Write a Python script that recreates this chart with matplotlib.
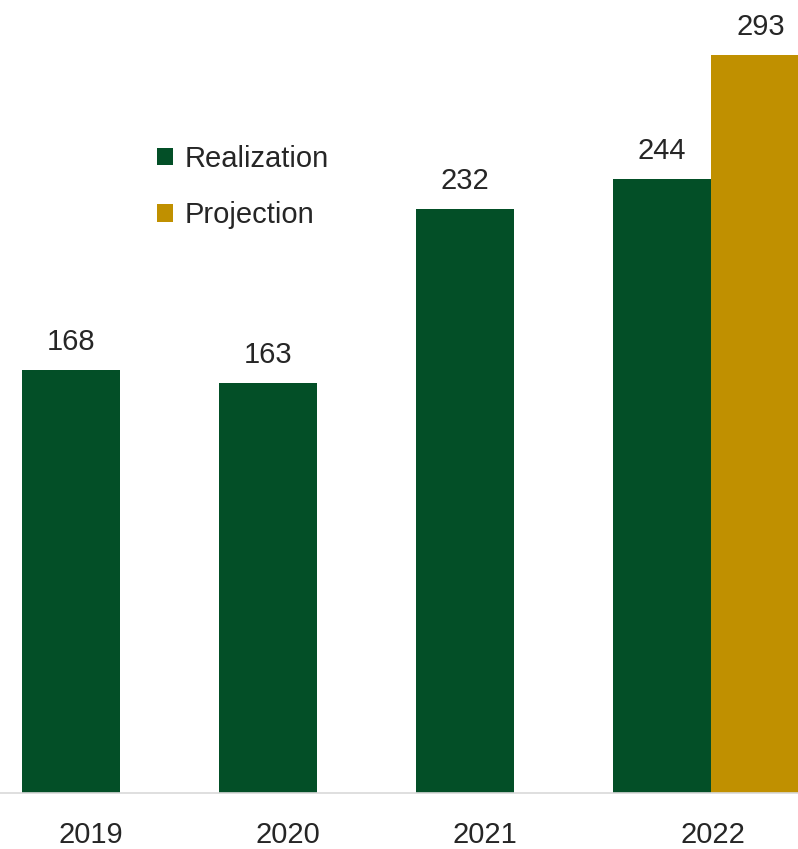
import matplotlib.pyplot as plt

years = ['2019', '2020', '2021', '2022']
realization = [168, 163, 232, 244]
projection = [293]

green = '#034F27'
gold = '#C09000'
txt = '#262626'

plt.rcParams['font.family'] = ['Liberation Sans', 'DejaVu Sans']

fig = plt.figure(figsize=(7.98, 8.49), dpi=100)
ax = fig.add_axes([0, 56 / 849, 1, 793 / 849])

w = 0.5
xs = list(range(len(years)))
b1 = ax.bar(xs, realization, width=w, color=green, label='Realization')
b2 = ax.bar([xs[-1] + w], projection, width=w, color=gold, label='Projection')

for bars in (b1, b2):
    for r in bars:
        ax.annotate(f'{r.get_height():.0f}', (r.get_x() + r.get_width() / 2, r.get_height()),
                    xytext=(0, 10), textcoords='offset points',
                    ha='center', va='bottom', fontsize=21, color=txt)

ax.set_xlim(-0.36, 3.69)
ax.set_ylim(0, 315)
ax.set_xticks([0.1, 1.1, 2.1, 3.26])
ax.set_xticklabels(years, fontsize=21, color=txt)
ax.tick_params(axis='x', length=0, pad=20)
ax.set_yticks([])
for s in ['top', 'left', 'right']:
    ax.spines[s].set_visible(False)
ax.spines['bottom'].set_color('#D9D9D9')
ax.spines['bottom'].set_linewidth(1.2)

ax.legend(loc='upper left', bbox_to_anchor=(157 / 798, 1 - 145 / 849),
          bbox_transform=fig.transFigure, frameon=False, fontsize=21,
          handlelength=0.55, handleheight=0.55, handletextpad=0.4,
          labelspacing=0.97, borderpad=0, borderaxespad=0, labelcolor=txt)

fig.savefig('out.png', dpi=100)
